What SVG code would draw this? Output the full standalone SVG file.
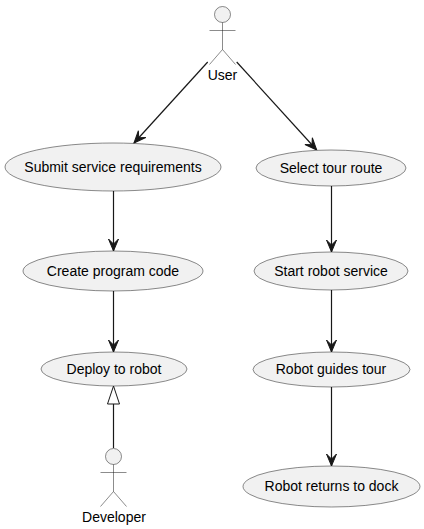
<svg xmlns="http://www.w3.org/2000/svg" width="424" height="529" viewBox="0 0 424 529">
<style>
.u{fill:#f1f1f1;stroke:#181818;stroke-width:.5}
.a{fill:none;stroke:#181818;stroke-width:.5}
.h{fill:#f1f1f1;stroke:#181818;stroke-width:.5}
.c{fill:none;stroke:#181818;stroke-width:1.2}
.ah{fill:#181818;stroke:#181818;stroke-width:1}
text{font-family:"Liberation Sans",Arial,sans-serif;font-size:14px;fill:#000;text-anchor:middle}
</style>
<defs>
<g id="actor"><circle class="h" cx="0" cy="0" r="8"/><path class="a" d="M0 8V35M-13 16H13M0 35L-13 50M0 35L13 50"/></g>
<g id="head"><path class="ah" d="M0 0L-5 -12L0 -7L5 -12Z"/></g>
</defs>
<rect width="424" height="529" fill="#fff"/>
<g id="connectors">
<path class="c" d="M207.700 62L134 143"/><use href="#head" transform="translate(134 143) rotate(42.3)"/>
<path class="c" d="M236.700 62L316.700 150"/><use href="#head" transform="translate(316.700 150) rotate(-42.3)"/>
<path class="c" d="M113.500 191V251"/><use href="#head" transform="translate(113.500 251)"/>
<path class="c" d="M113.500 291V352"/><use href="#head" transform="translate(113.500 352)"/>
<path class="c" d="M331.500 186V252"/><use href="#head" transform="translate(331.500 252)"/>
<path class="c" d="M331.500 290V352"/><use href="#head" transform="translate(331.500 352)"/>
<path class="c" d="M331.500 387V466"/><use href="#head" transform="translate(331.500 466)"/>
<path class="c" d="M113.500 448V404"/><path d="M113.500 386L107.500 404H119.500Z" fill="#fff" stroke="#181818"/>
</g>
<g id="user"><use href="#actor" transform="translate(222.500 14.500)"/><text x="222.500" y="80">User</text></g>
<g id="developer"><use href="#actor" transform="translate(113.500 456.500)"/><text x="114" y="522">Developer</text></g>
<g id="submit"><ellipse class="u" cx="113" cy="167" rx="108" ry="24"/><text x="113" y="172">Submit service requirements</text></g>
<g id="create"><ellipse class="u" cx="113" cy="271" rx="90" ry="20"/><text x="113" y="276">Create program code</text></g>
<g id="deploy"><ellipse class="u" cx="114" cy="369" rx="73" ry="17"/><text x="114" y="374">Deploy to robot</text></g>
<g id="select"><ellipse class="u" cx="331" cy="168" rx="75" ry="18"/><text x="331" y="173">Select tour route</text></g>
<g id="start"><ellipse class="u" cx="331" cy="271" rx="77" ry="19"/><text x="331" y="276">Start robot service</text></g>
<g id="guides"><ellipse class="u" cx="331.500" cy="369.500" rx="78.500" ry="17.500"/><text x="331" y="374">Robot guides tour</text></g>
<g id="returns"><ellipse class="u" cx="331.500" cy="486.500" rx="88.500" ry="20.500"/><text x="331.500" y="491">Robot returns to dock</text></g>
</svg>
